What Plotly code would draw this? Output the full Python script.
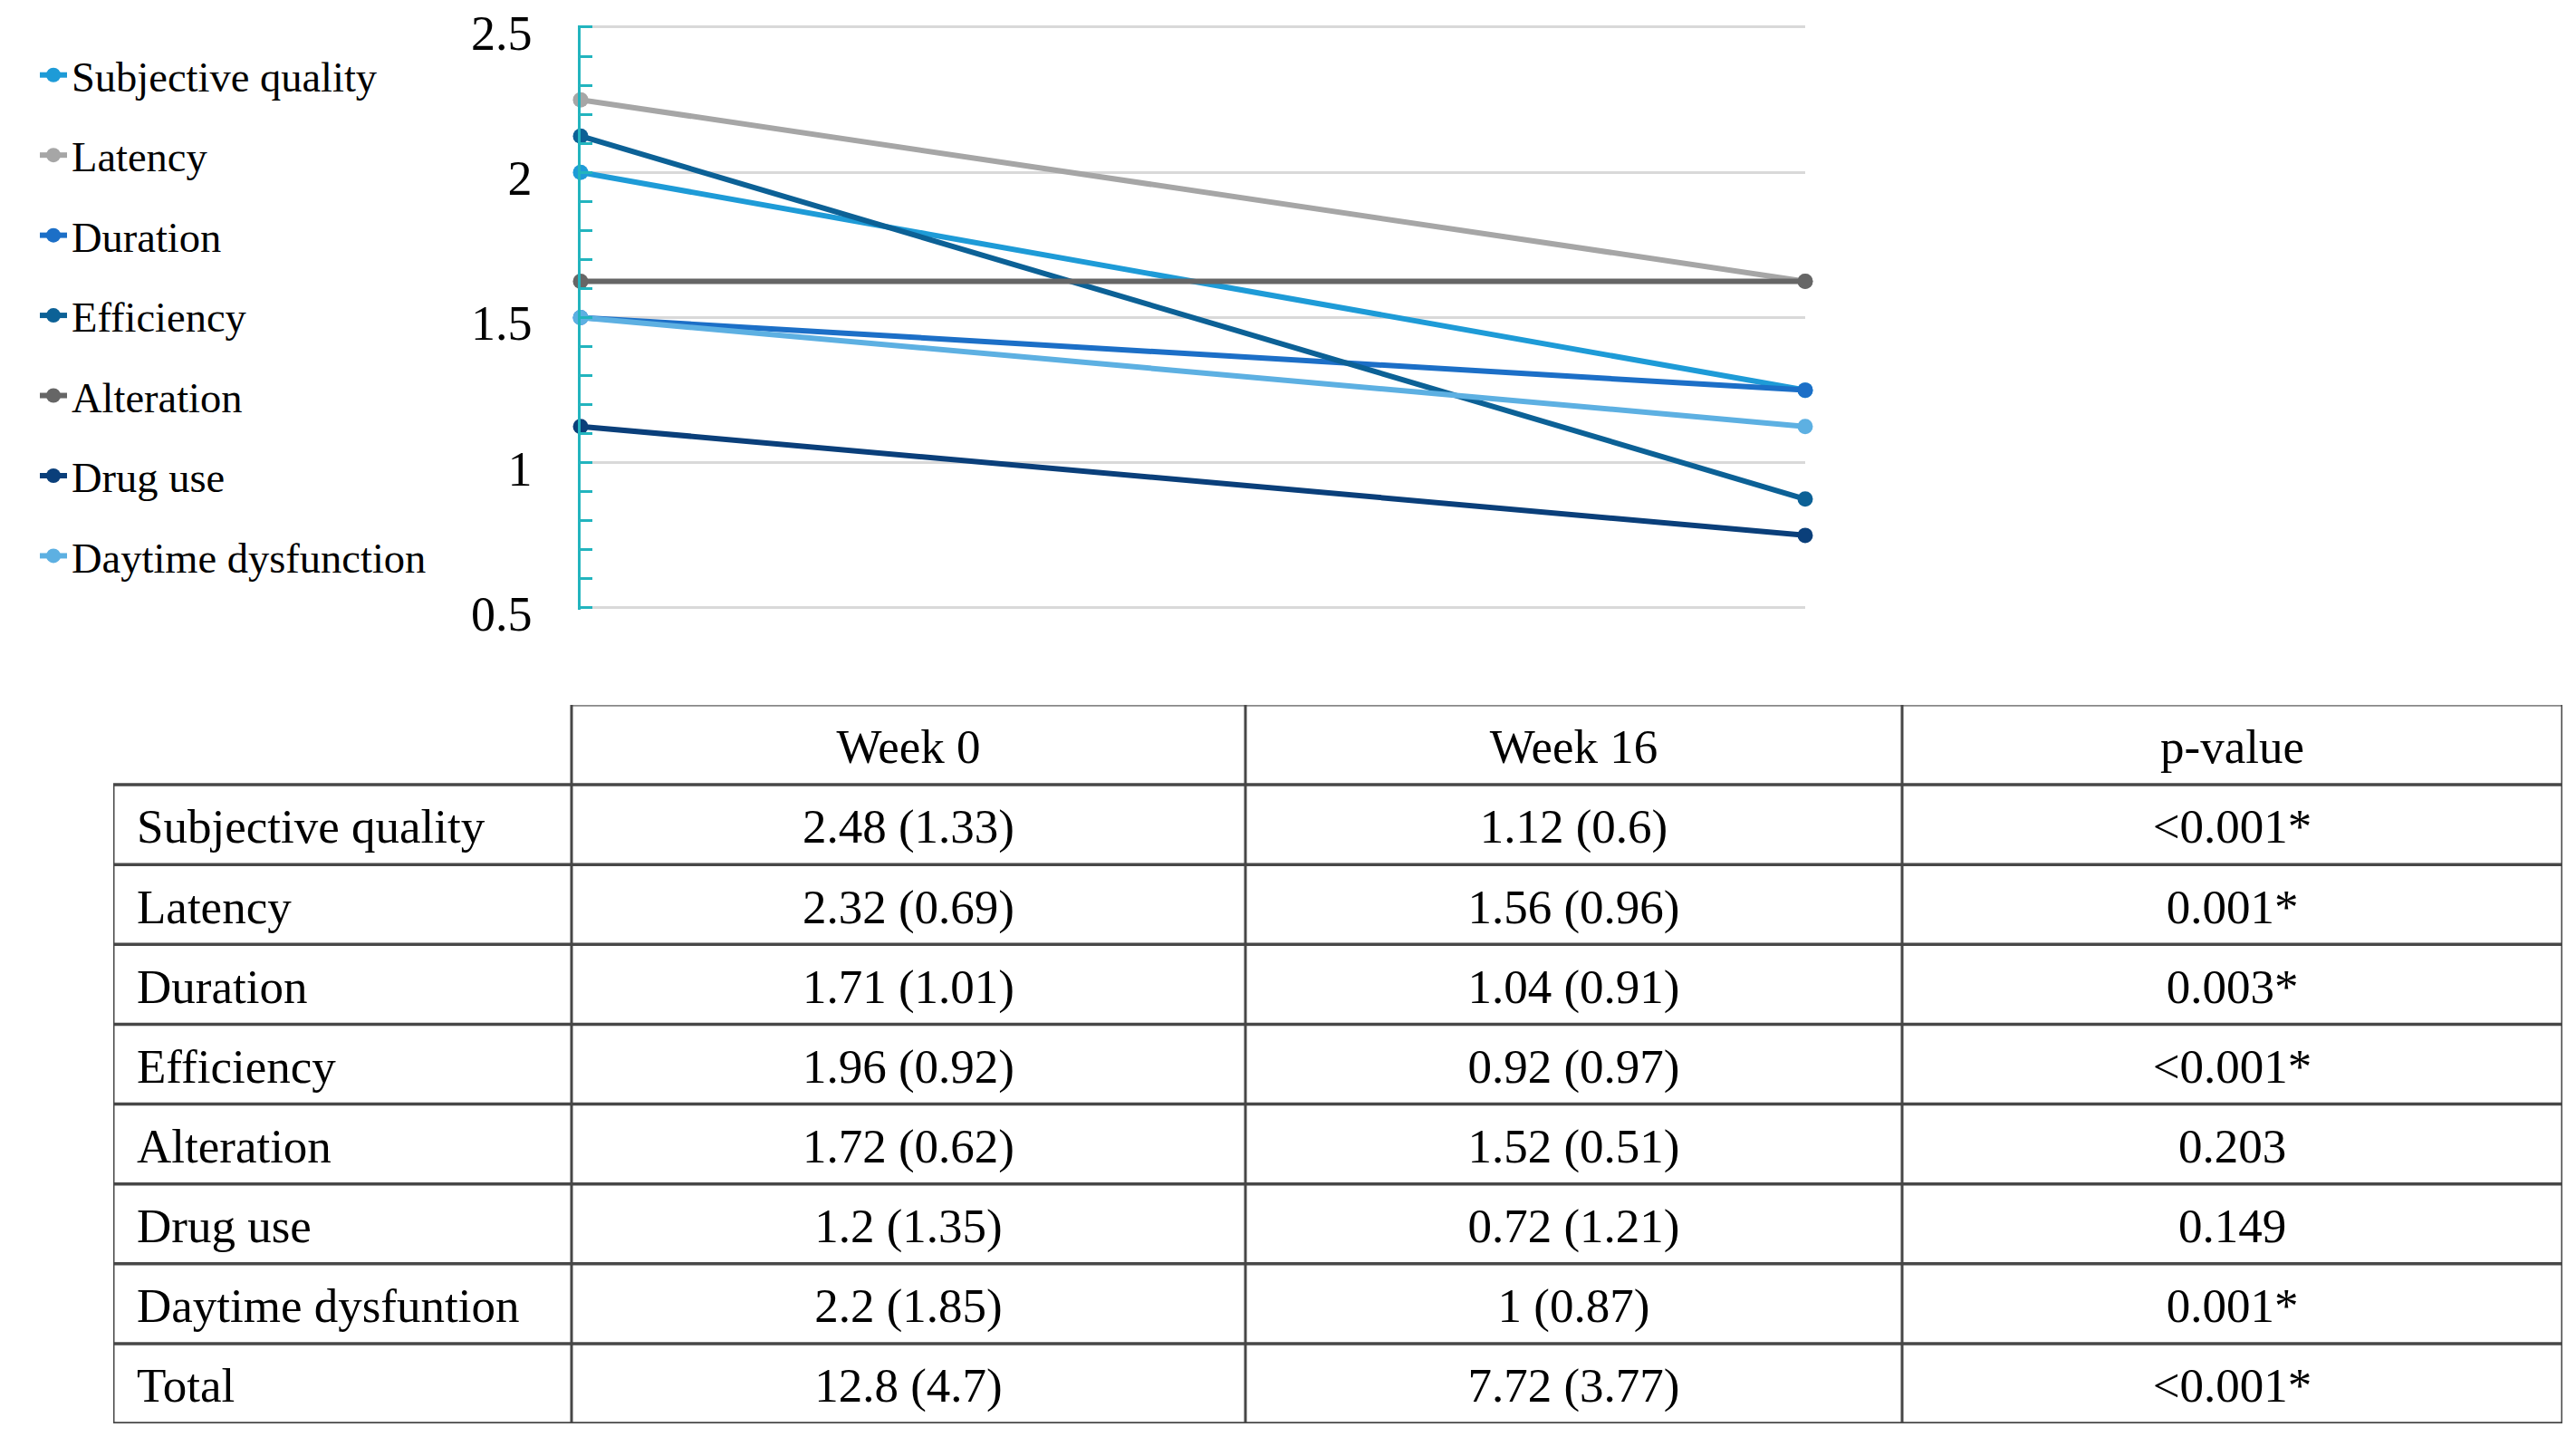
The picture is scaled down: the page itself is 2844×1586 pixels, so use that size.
import plotly.graph_objects as go

# ---------------- data ----------------
weeks = ["Week 0", "Week 16"]

series_names = ["Subjective quality", "Latency", "Duration", "Efficiency",
                "Alteration", "Drug use", "Daytime dysfunction"]
subjective_quality = [2.0, 1.25]
latency = [2.25, 1.625]
duration = [1.5, 1.25]
efficiency = [2.125, 0.875]
alteration = [1.625, 1.625]
drug_use = [1.125, 0.75]
daytime_dysfunction = [1.5, 1.125]

y_ticks = [0.5, 1, 1.5, 2, 2.5]

table_header = ["", "Week 0", "Week 16", "p-value"]
row_labels = ["Subjective quality", "Latency", "Duration", "Efficiency",
              "Alteration", "Drug use", "Daytime dysfuntion", "Total"]
week0_vals = ["2.48 (1.33)", "2.32 (0.69)", "1.71 (1.01)", "1.96 (0.92)",
              "1.72 (0.62)", "1.2 (1.35)", "2.2 (1.85)", "12.8 (4.7)"]
week16_vals = ["1.12 (0.6)", "1.56 (0.96)", "1.04 (0.91)", "0.92 (0.97)",
               "1.52 (0.51)", "0.72 (1.21)", "1 (0.87)", "7.72 (3.77)"]
p_values = ["<0.001*", "0.001*", "0.003*", "<0.001*",
            "0.203", "0.149", "0.001*", "<0.001*"]

# ---------------- style ----------------
PAGE_W, PAGE_H = 2844, 1586
OFF = 8                      # default body margin of the page
W, H = PAGE_W - 2 * OFF, PAGE_H - 2 * OFF
FONT = "Liberation Serif, Times New Roman, serif"
colors = ["#1E9BD7", "#A6A6A6", "#1C6FC7", "#0C6196",
          "#666666", "#0A3F7A", "#5DB0E2"]
TEAL = "#22B4BE"
col_widths = [506, 744, 725, 729]
TABLE_LINE = "#474747"
TEXT_SHIFT = 0.08            # rows; nudges table text down to look centred


def px_x(p):
    return (p - OFF) / W


def px_y(p):
    return 1 - (p - OFF) / H


series_values = [subjective_quality, latency, duration, efficiency,
                 alteration, drug_use, daytime_dysfunction]

fig = go.Figure()

for i, (name, vals) in enumerate(zip(series_names, series_values)):
    fig.add_trace(go.Scatter(
        x=weeks, y=vals, name=name, mode="lines+markers",
        line=dict(color=colors[i], width=6),
        marker=dict(color=colors[i], size=17),
        cliponaxis=False, legendgroup=f"g{i}",
        xaxis="x", yaxis="y",
    ))

# ---------------- table (drawn on hidden axes) ----------------
bounds = [0]
for w in col_widths:
    bounds.append(bounds[-1] + w)
n_rows = len(row_labels) + 1  # header + data rows

col_centers = [(bounds[j] + bounds[j + 1]) / 2 for j in range(len(col_widths))]
tfont = dict(family=FONT, size=53, color="black")

fig.add_trace(go.Scatter(
    x=col_centers[1:], y=[0.5 + TEXT_SHIFT] * 3, text=table_header[1:], mode="text",
    textposition="middle center", textfont=tfont,
    xaxis="x2", yaxis="y2", showlegend=False, hoverinfo="skip",
))
row_y = [r + 1.5 + TEXT_SHIFT for r in range(len(row_labels))]
fig.add_trace(go.Scatter(
    x=[bounds[0] + 26] * len(row_labels), y=row_y, text=row_labels, mode="text",
    textposition="middle right", textfont=tfont,
    xaxis="x2", yaxis="y2", showlegend=False, hoverinfo="skip",
))
for j, col in enumerate([week0_vals, week16_vals, p_values], start=1):
    fig.add_trace(go.Scatter(
        x=[col_centers[j]] * len(col), y=row_y, text=col, mode="text",
        textposition="middle center", textfont=tfont,
        xaxis="x2", yaxis="y2", showlegend=False, hoverinfo="skip",
    ))

shapes = []
for r in range(n_rows + 1):
    x0 = bounds[1] if r == 0 else bounds[0]
    shapes.append(dict(type="line", xref="x2", yref="y2", x0=x0, x1=bounds[-1],
                       y0=r, y1=r,
                       line=dict(color="#888888" if r == 0 else TABLE_LINE, width=3.5)))
for j, b in enumerate(bounds):
    y0 = 1 if j == 0 else 0
    shapes.append(dict(type="line", xref="x2", yref="y2", x0=b, x1=b,
                       y0=y0, y1=n_rows, line=dict(color=TABLE_LINE, width=3)))

# chart area: value 2.5 at y=30, 0.5 at y=671 ; range padded a little so
# the edge grid lines are drawn
Y_LO, Y_HI = 0.495, 2.505
ppu = (671 - 30) / 2.0
chart_top = 30 - (Y_HI - 2.5) * ppu
chart_bot = 671 + (0.5 - Y_LO) * ppu
chart_x = [px_x(641), px_x(1993)]
chart_y = [px_y(chart_bot), px_y(chart_top)]
table_x = [px_x(125), px_x(2829)]
table_y = [px_y(1571), px_y(778)]

fig.update_layout(
    width=W, height=H,
    margin=dict(l=0, r=0, t=0, b=0, autoexpand=False),
    paper_bgcolor="white", plot_bgcolor="white",
    font=dict(family=FONT, color="black"),
    shapes=shapes,
    showlegend=True,
    legend=dict(
        x=px_x(39), y=px_y(46), xanchor="left", yanchor="top",
        font=dict(family=FONT, size=46.5, color="black"),
        tracegroupgap=25, bgcolor="rgba(0,0,0,0)",
    ),
    xaxis=dict(
        domain=chart_x, type="category", categoryorder="array",
        categoryarray=weeks, range=[0, 1], automargin=False,
        showticklabels=False, showgrid=False, showline=False,
        zeroline=False, ticks="",
    ),
    yaxis=dict(
        domain=chart_y, range=[Y_LO, Y_HI], tickvals=y_ticks, automargin=False,
        showgrid=True, gridcolor="#D9D9D9", gridwidth=2.5,
        showline=True, linecolor=TEAL, linewidth=2.5,
        ticks="inside", ticklen=13, tickcolor=TEAL, tickwidth=2.5,
        minor=dict(tickvals=[round(0.5 + 0.1 * k, 1) for k in range(21)],
                   ticks="inside", ticklen=13,
                   tickcolor=TEAL, tickwidth=2.5, showgrid=False),
        tickfont=dict(family=FONT, size=54, color="black"),
        ticklabelstandoff=40, ticklabelshift=6, ticklabeloverflow="allow",
        zeroline=False,
    ),
    xaxis2=dict(
        domain=table_x, range=[bounds[0], bounds[-1]], visible=False,
        anchor="y2", automargin=False,
    ),
    yaxis2=dict(
        domain=table_y, range=[n_rows, 0], visible=False, anchor="x2",
        automargin=False,
    ),
)

fig.write_html("out.html")
